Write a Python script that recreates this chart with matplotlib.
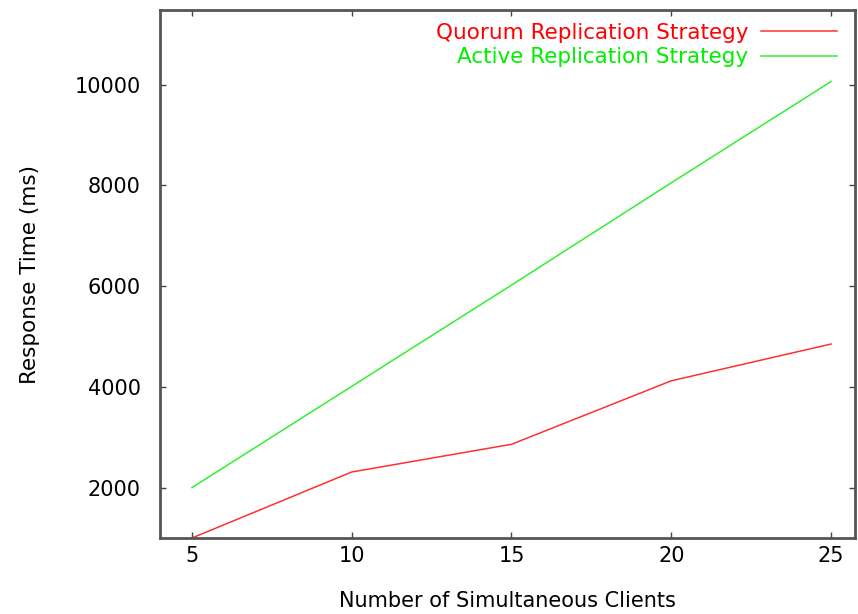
import matplotlib
matplotlib.use('Agg')
import matplotlib.pyplot as plt

plt.rcParams['font.family'] = ['DejaVu Sans']

clients = [5, 10, 15, 20, 25]  # number of simultaneous clients
quorum = [1000, 2310, 2860, 4120, 4850]  # response time (ms), quorum strategy
active = [2000, 4010, 6020, 8050, 10060]  # response time (ms), active strategy
xticks = [5, 10, 15, 20, 25]
yticks = [2000, 4000, 6000, 8000, 10000]

fig = plt.figure(figsize=(8.58, 6.14), dpi=100)
ax = fig.add_axes([160 / 858, 76 / 614, 695 / 858, 528 / 614])

ax.plot(clients, quorum, color='#ff3030', lw=1.1, label='Quorum Replication Strategy')
ax.plot(clients, active, color='#30f030', lw=1.1, label='Active Replication Strategy')

ax.set_xlim(4, 25.75)
ax.set_ylim(1000, 11480)
ax.set_xticks(xticks)
ax.set_yticks(yticks)
ax.tick_params(direction='in', length=4, width=1, colors='#444444', labelcolor='black',
               labelsize=15, top=True, right=True)
ax.tick_params(axis='x', pad=6)
ax.tick_params(axis='y', pad=14)
for s in ax.spines.values():
    s.set_color('#555555')
    s.set_linewidth(2)

ax.set_xlabel('Number of Simultaneous Clients', fontsize=15, labelpad=18)
ax.set_ylabel('Response Time (ms)', fontsize=15.5, labelpad=25)

leg = ax.legend(loc='upper right', frameon=False, markerfirst=False, fontsize=15.5,
                handlelength=3.5, handletextpad=0.6, labelspacing=0.2,
                borderaxespad=0.4, borderpad=0.2, bbox_to_anchor=(0.992, 1.0))
for t, c in zip(leg.get_texts(), ['#ff0000', '#00ee00']):
    t.set_color(c)

fig.savefig('out.png', dpi=100)
